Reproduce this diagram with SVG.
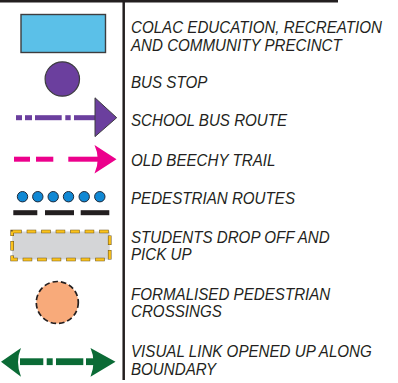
<svg xmlns="http://www.w3.org/2000/svg" width="398" height="383" viewBox="0 0 398 383">
  <style>
    .label { font-family: "Liberation Sans", Arial, sans-serif; font-style: italic; font-size: 15.8px; fill: #231f20; }
    .rule { stroke: #231f20; stroke-width: 2.5; fill: none; }
  </style>
  <rect width="398" height="383" fill="#ffffff"/>

  <!-- table rules -->
  <g id="frame">
    <line class="rule" x1="0" y1="1.3" x2="338" y2="1.3"/>
    <line class="rule" x1="123.7" y1="0" x2="123.7" y2="380"/>
  </g>

  <!-- legend symbols -->
  <g id="precinct">
    <rect x="21" y="14.5" width="84.5" height="38" fill="#5bc0e8" stroke="#3d3d3f" stroke-width="1.4"/>
  </g>
  <g id="bus-stop">
    <circle cx="62.3" cy="79" r="17.2" fill="#6b3f9e" stroke="#3d3d3f" stroke-width="1.2"/>
  </g>
  <g id="connectors">
    <g id="school-bus-route" fill="#6b3f9e">
      <rect x="16" y="115.2" width="6" height="5"/>
      <rect x="25" y="115.2" width="7" height="5"/>
      <rect x="35" y="115.2" width="26.7" height="5"/>
      <rect x="65.3" y="115.2" width="5.4" height="5"/>
      <rect x="74" y="115.2" width="23" height="5"/>
      <path d="M95,97.8 L116.7,117.7 L95,136.6 Z" stroke="#3d3d3f" stroke-width="1" stroke-linejoin="miter"/>
    </g>
    <g id="old-beechy-trail" fill="#ec008c">
      <rect x="14" y="156.7" width="16" height="5"/>
      <rect x="36" y="156.7" width="17.3" height="5"/>
      <rect x="68.3" y="156.7" width="31" height="5"/>
      <path d="M94.5,145 L116.5,159.2 L94.5,173.4 Q101,159.2 94.5,145 Z"/>
    </g>
    <g id="pedestrian-routes">
      <g fill="#1088d4" stroke="#1f2a3a" stroke-width="1">
        <circle cx="22.5" cy="196.7" r="5.2"/>
        <circle cx="37.8" cy="196.7" r="5.2"/>
        <circle cx="53.2" cy="196.7" r="5.2"/>
        <circle cx="68.5" cy="196.7" r="5.2"/>
        <circle cx="84.2" cy="196.7" r="5.2"/>
        <circle cx="99.8" cy="196.7" r="5.2"/>
      </g>
      <g fill="#231f20">
        <rect x="13.3" y="210.2" width="24" height="5"/>
        <rect x="45" y="210.2" width="29" height="5"/>
        <rect x="80.7" y="210.2" width="28.6" height="5"/>
      </g>
    </g>
    <g id="visual-link" fill="#0b6b36">
      <rect x="20" y="358.3" width="23.3" height="6.8"/>
      <rect x="46.7" y="358.3" width="6" height="6.8"/>
      <rect x="56" y="358.3" width="27.3" height="6.8"/>
      <rect x="86" y="358.3" width="10" height="6.8"/>
      <path d="M1,361.7 L21,348 Q15,361.7 21,376.7 Z"/>
      <path d="M115.5,361.7 L90.5,348 Q96.5,361.7 90.5,376.7 Z"/>
    </g>
  </g>
  <g id="drop-off">
    <rect x="12.2" y="231.5" width="97.5" height="28" fill="#d4d5d7"/>
    <rect x="12.2" y="231.5" width="97.5" height="28" fill="none" stroke="#6b5420" stroke-width="3.6" stroke-dasharray="9.5 5"/>
    <rect x="12.2" y="231.5" width="97.5" height="28" fill="none" stroke="#fbc21b" stroke-width="2.4" stroke-dasharray="8.5 6" stroke-dashoffset="-0.5"/>
  </g>
  <g id="crossing">
    <circle cx="57.3" cy="302.5" r="21" fill="#f8aa7a" stroke="#231f20" stroke-width="1.7" stroke-dasharray="5.5 3"/>
  </g>

  <!-- legend labels, slightly condensed -->
  <g id="labels" transform="translate(131,0) scale(0.958,1)">
    <text class="label" x="0" y="33.3">COLAC EDUCATION, RECREATION</text>
    <text class="label" x="0" y="50.7">AND COMMUNITY PRECINCT</text>
    <text class="label" x="0" y="88.3">BUS STOP</text>
    <text class="label" x="0" y="126">SCHOOL BUS ROUTE</text>
    <text class="label" x="0" y="166">OLD BEECHY TRAIL</text>
    <text class="label" x="0" y="204">PEDESTRIAN ROUTES</text>
    <text class="label" x="0" y="242.7">STUDENTS DROP OFF AND</text>
    <text class="label" x="0" y="260">PICK UP</text>
    <text class="label" x="0" y="300">FORMALISED PEDESTRIAN</text>
    <text class="label" x="0" y="317.3">CROSSINGS</text>
    <text class="label" x="0" y="357.3">VISUAL LINK OPENED UP ALONG</text>
    <text class="label" x="0" y="375">BOUNDARY</text>
  </g>
</svg>
